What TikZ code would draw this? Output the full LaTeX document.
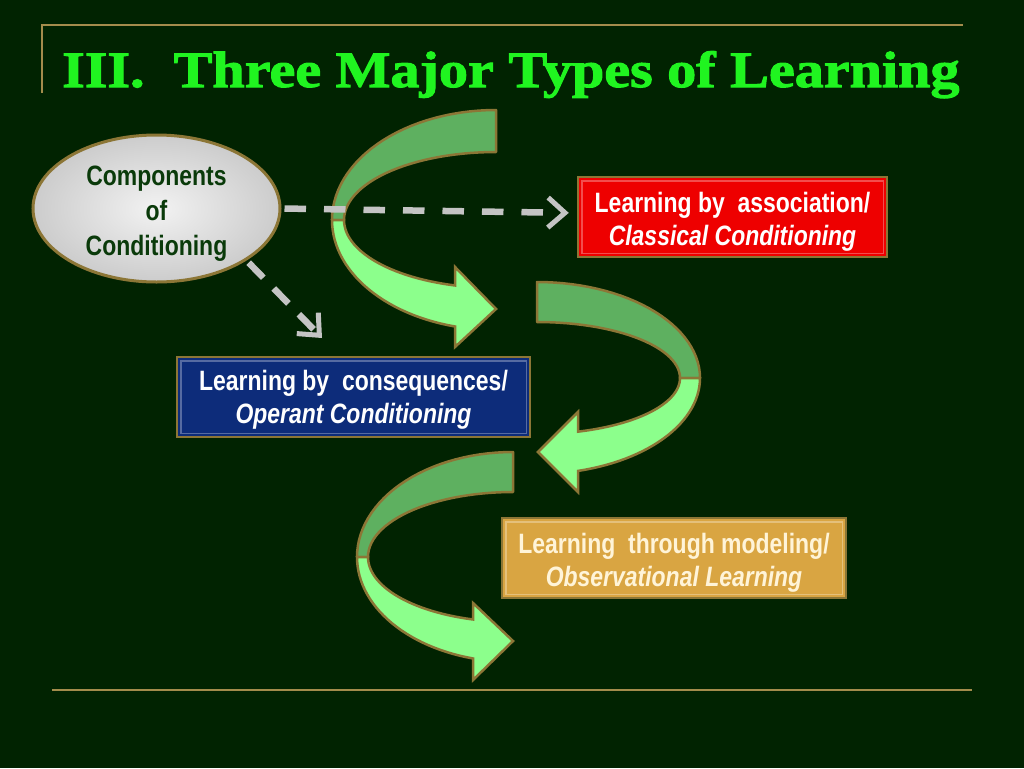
\documentclass[tikz,border=0pt]{standalone}
\usepackage{fontspec}
\setmainfont{Liberation Sans}
\newfontfamily\boxfont[FakeStretch=0.82]{Liberation Sans}
\newfontfamily\titlefont[FakeStretch=1.14, FakeBold=2]{Liberation Serif}
\usepackage{tikz}
\usepackage{xcolor}
\usetikzlibrary{arrows.meta,shapes.geometric}

\definecolor{bg}{HTML}{012301}
\definecolor{rim}{HTML}{8C7636}
\definecolor{rulegold}{HTML}{A48C4C}
\definecolor{titlegreen}{HTML}{20F420}
\definecolor{dashgray}{HTML}{C4C4C4}
\definecolor{backgreen}{HTML}{5EB060}
\definecolor{frontgreen}{HTML}{8CFF8C}
\definecolor{assocred}{HTML}{EE0000}
\definecolor{conseqblue}{HTML}{0D2C7A}
\definecolor{modelgold}{HTML}{D9A542}
\definecolor{compgreen}{HTML}{0A3A0A}
\definecolor{cream}{HTML}{FFF4D8}

\tikzset{
  box/.style={draw=rim, line width=2.5pt, minimum height=80pt, inner sep=0pt, align=center,
    text height=58pt, text depth=2pt, font=\fontsize{28}{33}\selectfont\boxfont\bfseries},
  bevel/.style={draw=white, opacity=0.3, line width=1.5pt},
  backband/.style={fill=backgreen, draw=rim, line width=2.5pt, line join=round},
  frontband/.style={fill=frontgreen, draw=rim, line width=2.5pt},
  dasharrow/.style={draw=dashgray, line width=6.5pt, dash pattern=on 21.5pt off 18pt,
    -{Straight Barb[length=17pt, width=30pt, line width=5pt]}},
  rule/.style={draw=rulegold, line width=2.5pt}
}

\begin{document}
\begin{tikzpicture}[x=1pt, y=-1pt]
\fill[bg] (0,0) rectangle (1024,768);
\useasboundingbox (0,0) rectangle (1024,768);

\draw[rule] (42,93) -- (42,25) -- (963,25);
\draw[rule, line width=2pt] (52,690) -- (972,690);

\node[anchor=base west, inner sep=0pt, text=titlegreen,
  font=\titlefont\bfseries\fontsize{51}{55}\selectfont] (title) at (62,87) {III.\ \ Three Major Types of Learning};

\filldraw[backband] plot[domain=270:180, samples=30, variable=\t] ({496+164*cos(\t)},{220+110*sin(\t)})
  -- plot[domain=180:270, samples=30, variable=\t] ({496+152*cos(\t)},{220+68*sin(\t)}) -- cycle;
\filldraw[frontband] plot[domain=180:104.48, samples=30, variable=\t] ({496+164*cos(\t)},{220+110*sin(\t)})
  -- (455,347) -- (496,309) -- (455,267)
  -- plot[domain=105.65:180, samples=30, variable=\t] ({496+152*cos(\t)},{220+68*sin(\t)}) -- cycle;

\filldraw[backband] plot[domain=-90:0, samples=30, variable=\t] ({537+163*cos(\t)},{378+96*sin(\t)})
  -- plot[domain=0:-90, samples=30, variable=\t] ({537+143*cos(\t)},{378+56*sin(\t)}) -- cycle;
\filldraw[frontband] plot[domain=0:75.43, samples=30, variable=\t] ({537+163*cos(\t)},{378+96*sin(\t)})
  -- (578,492) -- (538,452) -- (578,412)
  -- plot[domain=73.34:0, samples=30, variable=\t] ({537+143*cos(\t)},{378+56*sin(\t)}) -- cycle;

\filldraw[backband] plot[domain=270:180, samples=30, variable=\t] ({513+156*cos(\t)},{557+105*sin(\t)})
  -- plot[domain=180:270, samples=30, variable=\t] ({513+145*cos(\t)},{557+65*sin(\t)}) -- cycle;
\filldraw[frontband] plot[domain=180:104.86, samples=30, variable=\t] ({513+156*cos(\t)},{557+105*sin(\t)})
  -- (473,680) -- (513,641) -- (473,603)
  -- plot[domain=106.01:180, samples=30, variable=\t] ({513+145*cos(\t)},{557+65*sin(\t)}) -- cycle;

\node[ellipse, draw=rim, line width=3pt, inner color=gray!10, outer color=gray!40,
  minimum width=247pt, minimum height=147pt, inner sep=0pt, align=center, text=compgreen,
  text height=93pt, text depth=0pt, font=\fontsize{28}{35}\selectfont\boxfont\bfseries] (comp) at (156.5,208.5) {Components\\of\\Conditioning};

\node[box, fill=assocred, text=white, minimum width=309pt] (assoc) at (732.5,217)
  {Learning by~ association/\\\textit{Classical Conditioning}};
\node[box, fill=conseqblue, text=white, minimum width=353pt, text height=55pt] (conseq) at (353.5,397)
  {Learning by~ consequences/\\\textit{Operant Conditioning}};
\node[box, fill=modelgold, text=cream, minimum width=344pt] (model) at (674,558)
  {Learning~ through modeling/\\\textit{Observational Learning}};

\draw[bevel] ([shift={(5,5)}]assoc.north west) rectangle ([shift={(-5,-5)}]assoc.south east);
\draw[bevel] ([shift={(5,5)}]conseq.north west) rectangle ([shift={(-5,-5)}]conseq.south east);
\draw[bevel] ([shift={(5,5)}]model.north west) rectangle ([shift={(-5,-5)}]model.south east);

\coordinate (conseqtip) at (322,338);
\draw[dasharrow, shorten <=3pt, shorten >=8pt] (comp.east) -- ([yshift=4pt]assoc.west);
\draw[dasharrow, dash pattern=on 21pt off 15pt, shorten <=3pt] (comp.-30) -- (conseqtip);

\end{tikzpicture}
\end{document}
